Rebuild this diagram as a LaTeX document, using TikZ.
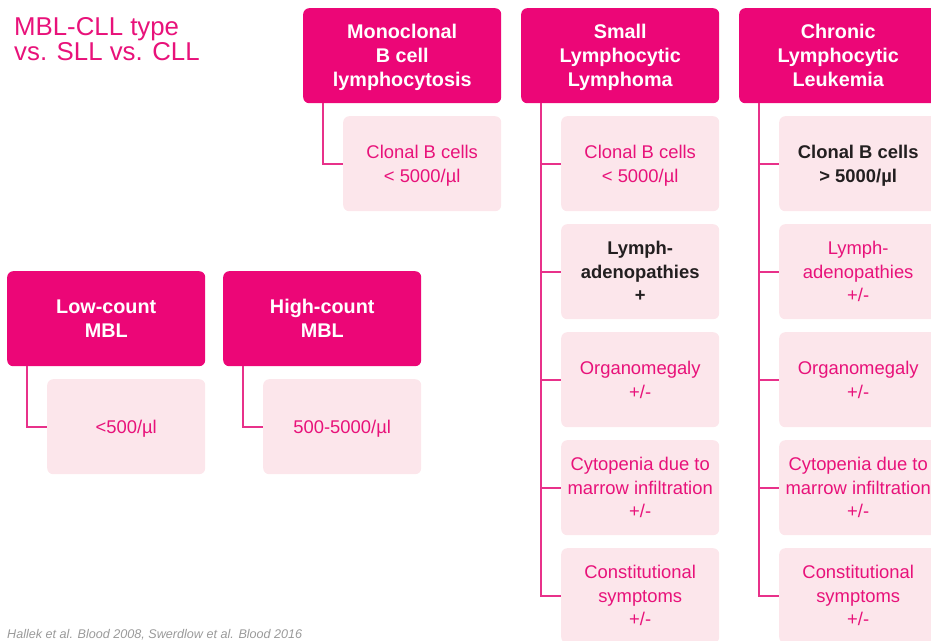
\documentclass[tikz,border=0pt]{standalone}
\usepackage{fontspec}
\setmainfont{Liberation Sans}
\usetikzlibrary{calc}
\definecolor{mag}{HTML}{EC0677}
\definecolor{lpink}{HTML}{FCE6EB}
\definecolor{ptext}{HTML}{E8127A}
\definecolor{dark}{HTML}{231F20}
\definecolor{lineclr}{HTML}{E8318A}
\definecolor{cite}{HTML}{9A9A9A}
\begin{document}
\begin{tikzpicture}[x=1pt,y=-1pt,
  hdr/.style={fill=mag, rounded corners=6pt, minimum width=198pt, minimum height=95pt, text=white, font=\fontsize{19.8}{24}\selectfont\bfseries, align=center, anchor=north west, inner sep=0pt, text depth=0pt},
  sub/.style={fill=lpink, rounded corners=6pt, minimum width=158pt, minimum height=95pt, text=ptext, font=\fontsize{18.4}{23.5}\selectfont, align=center, anchor=north west, inner sep=0pt, text depth=0pt},
  subb/.style={sub, text=dark, font=\fontsize{18.4}{23.5}\selectfont\bfseries},
  conn/.style={draw=lineclr, line width=1.6pt}]
\useasboundingbox (0,0) rectangle (931,640);
\clip (0,0) rectangle (931,640);

\node[anchor=north west, inner sep=0pt, align=left, text=ptext, font=\fontsize{25.8}{25}\selectfont] (title) at (14,17.5) {MBL-CLL type\\vs. SLL vs. CLL};

% headers
\node[hdr] (mbc) at (303,8) {Monoclonal\\B cell\\lymphocytosis};
\node[hdr] (sll) at (521,8) {Small\\Lymphocytic\\Lymphoma};
\node[hdr] (cll) at (739,8) {Chronic\\Lymphocytic\\Leukemia};
\node[hdr] (low) at (7,271) {Low-count\\MBL};
\node[hdr] (high) at (223,271) {High-count\\MBL};

% sub boxes
\node[sub] (mbc1) at (343,116) {Clonal B cells\\< 5000/µl};
\node[sub] (low1) at (47,379) {<500/µl};
\node[sub] (high1) at (263,379) {500-5000/µl};

\node[sub] (sll1) at (561,116) {Clonal B cells\\< 5000/µl};
\node[subb] (sll2) at (561,224) {Lymph-\\adenopathies\\+};
\node[sub] (sll3) at (561,332) {Organomegaly\\+/-};
\node[sub] (sll4) at (561,440) {Cytopenia due to\\marrow infiltration\\+/-};
\node[sub] (sll5) at (561,548) {Constitutional\\symptoms\\+/-};

\node[subb] (cll1) at (779,116) {Clonal B cells\\> 5000/µl};
\node[sub] (cll2) at (779,224) {Lymph-\\adenopathies\\+/-};
\node[sub] (cll3) at (779,332) {Organomegaly\\+/-};
\node[sub] (cll4) at (779,440) {Cytopenia due to\\marrow infiltration\\+/-};
\node[sub] (cll5) at (779,548) {Constitutional\\symptoms\\+/-};

% connectors
\draw[conn] ($(mbc.south west)+(20,0)$) |- (mbc1.west);
\draw[conn] ($(low.south west)+(20,0)$) |- (low1.west);
\draw[conn] ($(high.south west)+(20,0)$) |- (high1.west);
\foreach \i in {1,...,5} {
  \draw[conn] ($(sll.south west)+(20,0)$) |- (sll\i.west);
  \draw[conn] ($(cll.south west)+(20,0)$) |- (cll\i.west);
}

\node[anchor=base west, inner sep=0pt, text=cite, font=\fontsize{12.6}{12.6}\selectfont\itshape] (cit) at (7,638) {Hallek et al. Blood 2008, Swerdlow et al. Blood 2016};
\end{tikzpicture}
\end{document}
